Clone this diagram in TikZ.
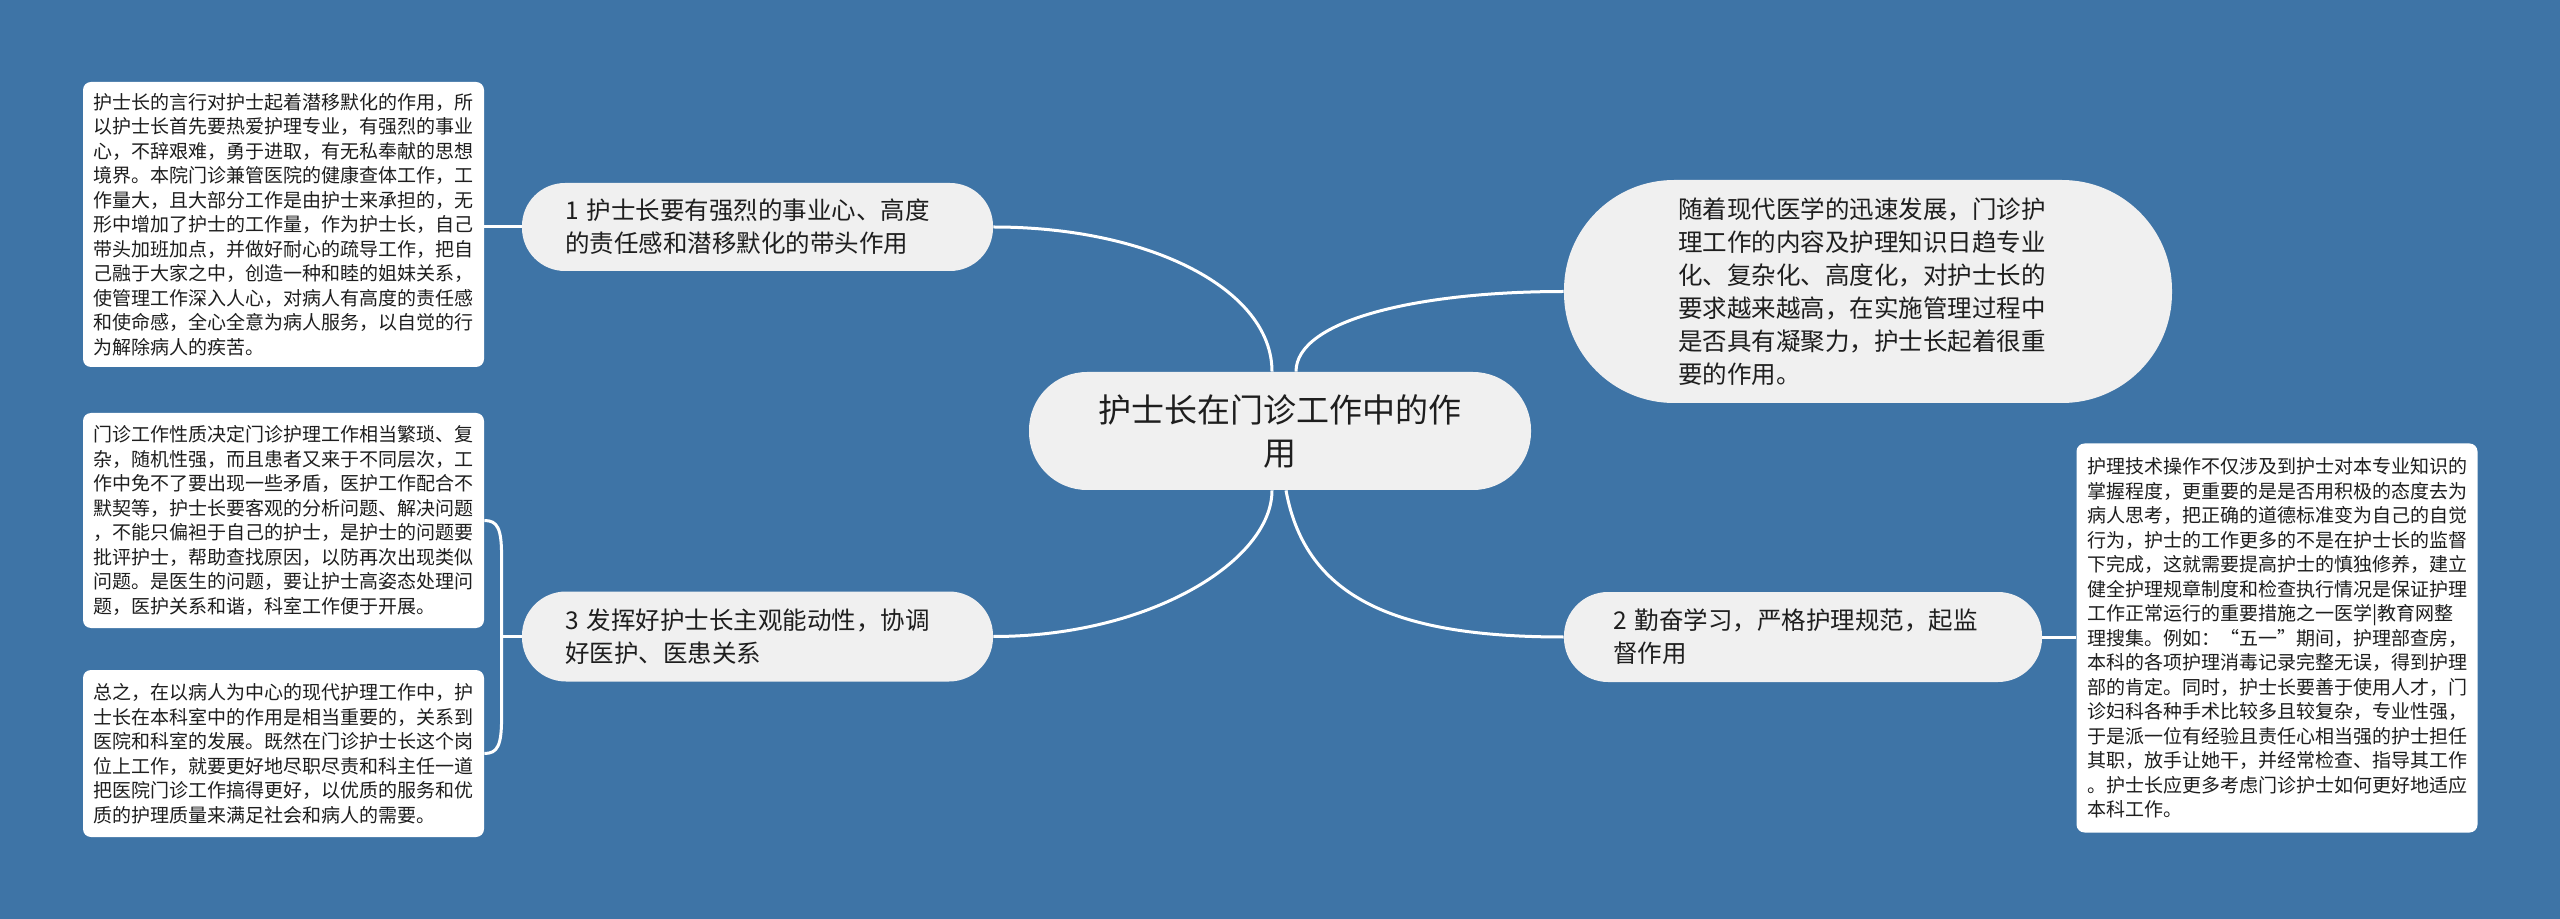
\documentclass[tikz,border=0pt]{standalone}
\usepackage{fontspec}
\setmainfont{Noto Sans CJK SC}
\usetikzlibrary{calc}
\definecolor{bgblue}{HTML}{3E74A6}
\definecolor{topicfill}{HTML}{F0F0F0}
\definecolor{txt}{HTML}{1E1E1E}
\pgfdeclarelayer{back}
\pgfsetlayers{back,main}
\begin{document}
\begin{tikzpicture}[x=0.5pt,y=-0.5pt,
  link/.style={draw=white, line width=1.5pt},
  leaf/.style={fill=white, rounded corners=4pt, inner sep=0pt, align=left, text=txt,
    font=\fontsize{9.5}{12.25}\selectfont, minimum width=200.5pt},
  topic/.style={fill=topicfill, inner ysep=0pt, align=left, text=txt,
    font=\fontsize{12.25}{16.5}\selectfont},
]
\begin{pgfonlayer}{back}
\fill[bgblue] (0,0) rectangle (2560,919);
\end{pgfonlayer}
\useasboundingbox (0,0) rectangle (2560,919);

% central topic
\node[topic, rounded corners=29pt, minimum width=251pt, minimum height=59pt, inner xsep=0pt,
  align=center, font=\fontsize{16.5}{21.5}\selectfont] (root) at (1280,431)
  {护士长在门诊工作中的作\\用};

% main topics
\node[topic, rounded corners=21.5pt, minimum height=44pt, text width=192.5pt, inner xsep=21.5pt]
  (n1) at (757.5,227) {1 护士长要有强烈的事业心、高度\\的责任感和潜移默化的带头作用};
\node[topic, rounded corners=22pt, minimum height=45pt, text width=192.5pt, inner xsep=21.5pt]
  (n3) at (757.5,636.5) {3 发挥好护士长主观能动性，协调\\好医护、医患关系};
\node[topic, rounded corners=22pt, minimum height=45pt, text width=190pt, inner xsep=24.5pt]
  (n2) at (1803,637) {2 勤奋学习，严格护理规范，起监\\督作用};
\node[topic, rounded corners=55pt, minimum height=111.5pt, text width=190pt, inner xsep=57pt]
  (rt) at (1868,291.5) {随着现代医学的迅速发展，门诊护\\理工作的内容及护理知识日趋专业\\化、复杂化、高度化，对护士长的\\要求越来越高，在实施管理过程中\\是否具有凝聚力，护士长起着很重\\要的作用。};

% leaves
\node[leaf, minimum height=142.5pt] (A) at (283.5,224.5)
  {护士长的言行对护士起着潜移默化的作用，所\\以护士长首先要热爱护理专业，有强烈的事业\\心，不辞艰难，勇于进取，有无私奉献的思想\\境界。本院门诊兼管医院的健康查体工作，工\\作量大，且大部分工作是由护士来承担的，无\\形中增加了护士的工作量，作为护士长，自己\\带头加班加点，并做好耐心的疏导工作，把自\\己融于大家之中，创造一种和睦的姐妹关系，\\使管理工作深入人心，对病人有高度的责任感\\和使命感，全心全意为病人服务，以自觉的行\\为解除病人的疾苦。};
\node[leaf, minimum height=107.5pt] (B) at (283.5,520.5)
  {门诊工作性质决定门诊护理工作相当繁琐、复\\杂，随机性强，而且患者又来于不同层次，工\\作中免不了要出现一些矛盾，医护工作配合不\\默契等，护士长要客观的分析问题、解决问题\\，不能只偏袒于自己的护士，是护士的问题要\\批评护士，帮助查找原因，以防再次出现类似\\问题。是医生的问题，要让护士高姿态处理问\\题，医护关系和谐，科室工作便于开展。};
\node[leaf, minimum height=83.5pt] (C) at (283.5,753.5)
  {总之，在以病人为中心的现代护理工作中，护\\士长在本科室中的作用是相当重要的，关系到\\医院和科室的发展。既然在门诊护士长这个岗\\位上工作，就要更好地尽职尽责和科主任一道\\把医院门诊工作搞得更好，以优质的服务和优\\质的护理质量来满足社会和病人的需要。};
\node[leaf, minimum height=194.5pt] (D) at (2277,638)
  {护理技术操作不仅涉及到护士对本专业知识的\\掌握程度，更重要的是是否用积极的态度去为\\病人思考，把正确的道德标准变为自己的自觉\\行为，护士的工作更多的不是在护士长的监督\\下完成，这就需要提高护士的慎独修养，建立\\健全护理规章制度和检查执行情况是保证护理\\工作正常运行的重要措施之一医学|教育网整\\理搜集。例如：“五一”期间，护理部查房，\\本科的各项护理消毒记录完整无误，得到护理\\部的肯定。同时，护士长要善于使用人才，门\\诊妇科各种手术比较多且较复杂，专业性强，\\于是派一位有经验且责任心相当强的护士担任\\其职，放手让她干，并经常检查、指导其工作\\。护士长应更多考虑门诊护士如何更好地适应\\本科工作。};

% connectors
\coordinate (j3) at ($(n3.west)+(-20,0)$);
\coordinate (bt) at (B.east -| j3);
\coordinate (ct) at (C.east -| j3);
\begin{pgfonlayer}{back}
\draw[link] (n1.east) .. controls +(157,0) and +(0,-82) .. ($(root.north)+(-8,0)$);
\draw[link] (n3.east) .. controls +(157,0) and +(0,70) .. ($(root.south)+(-8,0)$);
\draw[link] ($(root.north)+(16,0)$) .. controls +(0,-52) and +(-144,0) .. (rt.west);
\draw[link] ($(root.south)+(6,0)$) .. controls +(20,110) and +(-164,0) .. (n2.west);
\draw[link] (n1.west) -- (n1.west -| A.east);
\draw[link] (n2.east) -- (n2.east -| D.west);
\draw[link] (n3.west) -- (j3);
\draw[link] (B.east) .. controls ($(bt)+(-4,0)$) and ($(bt)+(0,8)$) .. ($(bt)+(0,36)$) -- ($(ct)+(0,-36)$) .. controls ($(ct)+(0,-8)$) and ($(ct)+(-4,0)$) .. (C.east);
\end{pgfonlayer}
\end{tikzpicture}
\end{document}
